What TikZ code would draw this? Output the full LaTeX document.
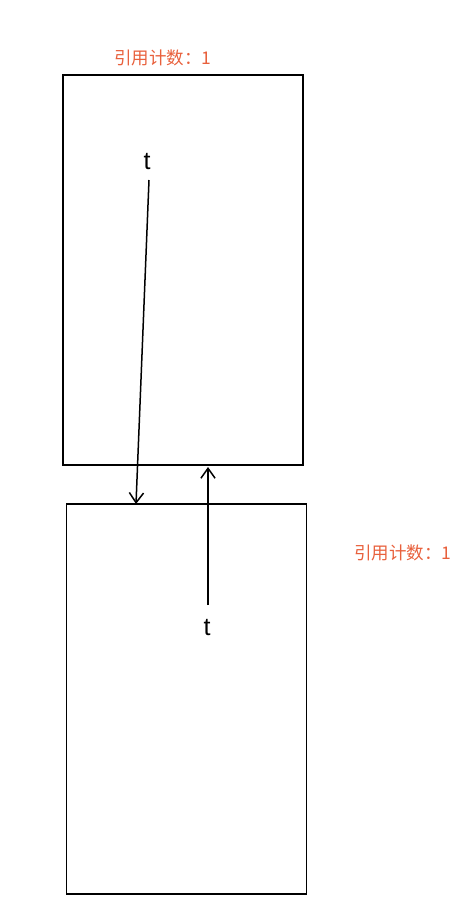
\documentclass[tikz,border=0pt]{standalone}
\usepackage{fontspec}
\setmainfont{Liberation Sans}
\newfontfamily\cjk{Noto Sans CJK SC}
\usepackage{tikz}
\usetikzlibrary{arrows.meta,positioning}
\definecolor{refred}{HTML}{E8603C}

\begin{document}
\begin{tikzpicture}[x=1pt, y=-1pt,
  obj/.style={draw, line width=1.5pt, minimum width=240pt, minimum height=390pt, inner sep=0pt},
  cnt/.style={text=refred, font=\cjk\fontsize{17.5}{20}\selectfont, inner sep=1pt},
  var/.style={font=\fontsize{25}{28}\selectfont, inner sep=1pt},
  ref/.style={line width=1.5pt, -{Straight Barb[length=3.5mm, width=5mm, line width=1.5pt]}}]
\useasboundingbox (0,0) rectangle (475,916);
\node[obj] (top) at (183,270) {};
\node[obj] (bot) at (186.5,699) {};
\node[cnt] (ctop) at (163,58) {引用计数：1};
\node[cnt] (cbot) at (403,553) {引用计数：1};
\node[var] (t1) at (147,162) {t};
\node[var] (t2) at (207,628) {t};
% arrow ends
\coordinate (s1) at (149,180);
\coordinate (a1) at (136,504);
\coordinate (s2) at (208,605);
\coordinate (a2) at (208,467);
\draw[ref] (s1) -- (a1);
\draw[ref] (s2) -- (a2);
\end{tikzpicture}
\end{document}
